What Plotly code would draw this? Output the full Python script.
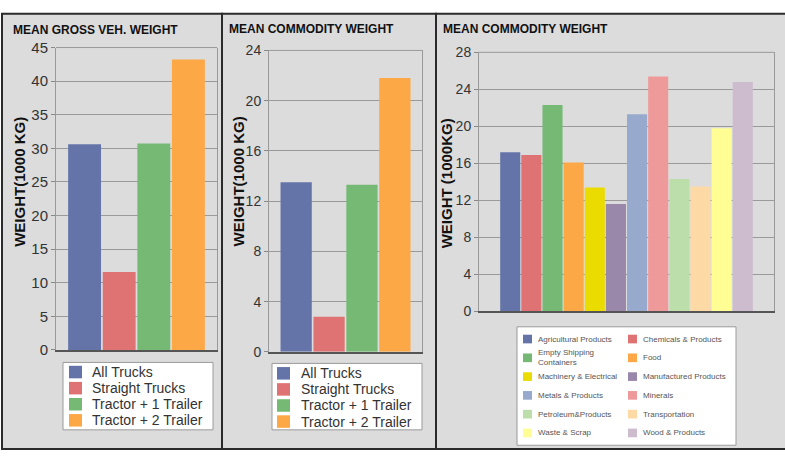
import textwrap
import plotly.graph_objects as go

W, H = 785, 460
FONT = "Arial, Liberation Sans, sans-serif"

# ---- data -------------------------------------------------------------
truck_types = ["All Trucks", "Straight Trucks", "Tractor + 1 Trailer", "Tractor + 2 Trailer"]
truck_colors = ["#6474a8", "#df7373", "#75b975", "#fda846"]
gross_weight = [30.6, 11.6, 30.7, 43.2]
truck_commodity_weight = [13.5, 2.8, 13.3, 21.8]

commodities = [
    "Agricultural Products", "Chemicals & Products", "Empty Shipping Containers", "Food",
    "Machinery & Electrical", "Manufactured Products", "Metals & Products", "Minerals",
    "Petroleum&Products", "Transportation", "Waste & Scrap", "Wood & Products",
]
commodity_colors = [
    "#6474a8", "#df7373", "#75b975", "#fda846", "#ebdc00", "#9a88aa",
    "#97aacd", "#ee9a9a", "#bcdeaa", "#fdd9a5", "#fefe95", "#cdbbce",
]
commodity_weight = [17.2, 16.9, 22.3, 16.1, 13.4, 11.6, 21.3, 25.4, 14.3, 13.5, 19.8, 24.8]

panel_titles = ["MEAN GROSS VEH. WEIGHT", "MEAN COMMODITY WEIGHT", "MEAN COMMODITY WEIGHT"]
axis_titles = ["WEIGHT(1000 KG)", "WEIGHT(1000 KG)", "WEIGHT (1000KG)"]
y_max = [45, 24, 28]
y_step = [5, 4, 4]


def px(x):
    return x / W


def py(y):
    return 1 - y / H


# ---- layout geometry (pixels) -----------------------------------------
panel_x = [(2, 222), (222, 436), (436, 792)]
panel_y = (5, 457)
plot_boxes = [(56, 217, 40, 354), (269, 422, 43, 356), (479, 774, 45, 314)]
title_pos = [(11, 21.5), (227, 20.5), (441, 20.5)]
ytitle_pos = [(19.5, 180), (238, 179), (446, 181)]
tick_sizes = [15, 14, 14]

fig = go.Figure()

series = [
    (truck_types, gross_weight, truck_colors),
    (truck_types, truck_commodity_weight, truck_colors),
    (commodities, commodity_weight, commodity_colors),
]
for p, (names, values, colors) in enumerate(series):
    sfx = "" if p == 0 else str(p + 1)
    for name, val, col in zip(names, values, colors):
        fig.add_trace(go.Bar(
            x=["group"], y=[val], name=name, marker=dict(color=col, line=dict(width=0)),
            xaxis="x" + sfx, yaxis="y" + sfx, showlegend=False,
            hovertemplate=name + ": %{y}<extra></extra>",
        ))

shapes = []
annotations = []
layout_axes = {}

for p in range(3):
    sfx = "" if p == 0 else str(p + 1)
    x0, x1, y0, y1 = plot_boxes[p]
    layout_axes["xaxis" + sfx] = dict(
        domain=[px(x0), px(x1)], anchor="y" + sfx, showticklabels=False, ticks="",
        showgrid=False, zeroline=False, showline=True, linecolor="#555", linewidth=2,
        fixedrange=True,
    )
    layout_axes["yaxis" + sfx] = dict(
        domain=[py(y1), py(y0)], anchor="x" + sfx, range=[0, y_max[p]], tick0=0, dtick=y_step[p],
        showgrid=True, gridcolor="#9a9a9a", gridwidth=1, zeroline=False,
        ticks="outside", ticklen=4, tickcolor="#888", tickwidth=1,
        tickfont=dict(family=FONT, size=tick_sizes[p], color="#333"),
        showline=True, linecolor="#999", linewidth=1, mirror=True, fixedrange=True,
    )
    # panel frame
    shapes.append(dict(
        type="rect", xref="paper", yref="paper", layer="below",
        x0=px(panel_x[p][0]), x1=px(panel_x[p][1]), y0=py(panel_y[1]), y1=py(panel_y[0]),
        fillcolor="#dcdcdc", line=dict(color="#2b2b2b", width=2),
    ))
    # top edge of plot area
    shapes.append(dict(
        type="line", xref="x%s domain" % sfx, yref="y%s domain" % sfx,
        x0=0, x1=1, y0=1, y1=1, line=dict(color="#999", width=1),
    ))
    annotations.append(dict(
        text="<b>%s</b>" % panel_titles[p], xref="paper", yref="paper",
        x=px(title_pos[p][0]), y=py(title_pos[p][1]), xanchor="left", yanchor="middle",
        showarrow=False, font=dict(family=FONT, size=12, color="#111"),
    ))
    annotations.append(dict(
        text="<b>%s</b>" % axis_titles[p], xref="paper", yref="paper", textangle=-90,
        x=px(ytitle_pos[p][0]), y=py(ytitle_pos[p][1]), xanchor="center", yanchor="middle",
        showarrow=False, font=dict(family=FONT, size=15, color="#111"),
    ))

# ---- legends for the two truck panels ----------------------------------
truck_legends = [
    dict(box=(63, 213, 367, 437), sw_x=69, txt_x=90, row0=377),
    dict(box=(272, 422, 368, 437), sw_x=277, txt_x=299, row0=378.3),
]
for lg in truck_legends:
    bx0, bx1, by0, by1 = lg["box"]
    shapes.append(dict(type="rect", xref="paper", yref="paper",
                       x0=px(bx0), x1=px(bx1), y0=py(by1), y1=py(by0),
                       fillcolor="white", line=dict(color="#9a9a9a", width=1)))
    for k, (name, col) in enumerate(zip(truck_types, truck_colors)):
        yc = lg["row0"] + k * 16.7
        shapes.append(dict(type="rect", xref="paper", yref="paper",
                           x0=px(lg["sw_x"]), x1=px(lg["sw_x"] + 13),
                           y0=py(yc + 6.5), y1=py(yc - 6.5),
                           fillcolor=col, line=dict(width=0)))
        annotations.append(dict(text=name, xref="paper", yref="paper",
                                x=px(lg["txt_x"]), y=py(yc), xanchor="left", yanchor="middle",
                                showarrow=False, font=dict(family=FONT, size=14, color="#333")))

# ---- two-column legend for the commodity panel --------------------------
shapes.append(dict(type="rect", xref="paper", yref="paper",
                   x0=px(517), x1=px(736), y0=py(453), y1=py(330),
                   fillcolor="white", line=dict(color="#9a9a9a", width=1)))
col_sw_x = [523, 628]
col_txt_x = [536, 641]
for k, (name, col) in enumerate(zip(commodities, commodity_colors)):
    r, c = divmod(k, 2)
    yc = 342.7 + r * 19.5
    label = "<br>".join(textwrap.wrap(name, 16)) if len(name) > 22 else name
    shapes.append(dict(type="rect", xref="paper", yref="paper",
                       x0=px(col_sw_x[c]), x1=px(col_sw_x[c] + 9),
                       y0=py(yc + 4.5), y1=py(yc - 4.5),
                       fillcolor=col, line=dict(width=0)))
    annotations.append(dict(text=label, xref="paper", yref="paper",
                            x=px(col_txt_x[c]), y=py(yc), xanchor="left", yanchor="middle",
                            align="left", showarrow=False,
                            font=dict(family=FONT, size=8, color="#555")))

fig.update_layout(
    width=W, height=H, margin=dict(l=0, r=0, t=0, b=0),
    paper_bgcolor="white", plot_bgcolor="white",
    barmode="group", bargap=0.14, bargroupgap=0.05,
    shapes=shapes, annotations=annotations, showlegend=False,
    **layout_axes,
)

fig.write_html("out.html", config={"displayModeBar": False})
